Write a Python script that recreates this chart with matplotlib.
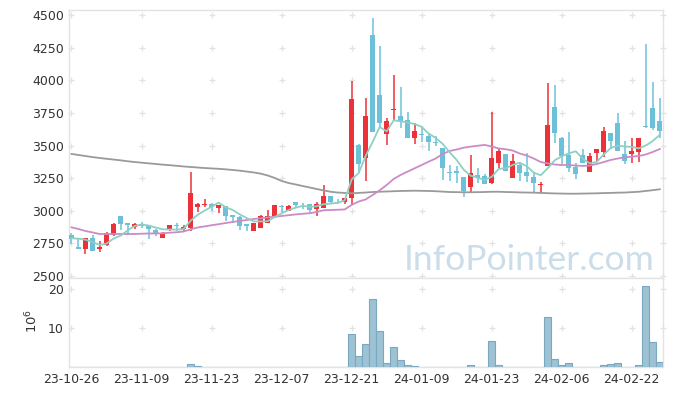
import numpy as np
import pandas as pd
import matplotlib
matplotlib.use("Agg")
import matplotlib.pyplot as plt

# ---- data (KRW price, volume in millions) ----
holidays = ['2023-12-25', '2023-12-29', '2024-01-01', '2024-02-09', '2024-02-12']
days = pd.bdate_range('2023-10-26', '2024-02-28')
days = days[~days.isin(pd.to_datetime(holidays))]
date_labels = [d.strftime('%y-%m-%d') for d in days]

opens = [2814, 2725, 2705, 2789, 2709, 2734, 2811, 2960, 2909, 2876,
         2895, 2891, 2853, 2794, 2857, 2891, 2860, 2868, 3031, 3042,
         3054, 3019, 3037, 2968, 2950, 2895, 2847, 2870, 2909, 2952,
         3037, 3001, 3064, 3039, 3050, 3014, 3024, 3117, 3070, 3068,
         3100, 3505, 3403, 4348, 3888, 3587, 3773, 3727, 3696, 3556,
         3589, 3574, 3525, 3479, 3295, 3305, 3259, 3185, 3275, 3263,
         3211, 3369, 3436, 3254, 3351, 3300, 3262, 3196, 3346, 3794,
         3556, 3428, 3338, 3428, 3300, 3446, 3453, 3594, 3671, 3433,
         3438, 3453, 3650, 3786, 3689]
closes = [2781, 2705, 2789, 2694, 2725, 2827, 2899, 2899, 2893, 2899,
          2885, 2860, 2820, 2827, 2889, 2883, 2878, 3139, 3054, 3052,
          3029, 3041, 2962, 2949, 2885, 2887, 2909, 2960, 2960, 3044,
          3029, 3037, 3047, 3033, 3004, 3051, 3117, 3070, 3062, 3098,
          3857, 3357, 3727, 3602, 3671, 3689, 3781, 3689, 3556, 3612,
          3581, 3524, 3518, 3331, 3288, 3288, 3150, 3288, 3252, 3208,
          3403, 3459, 3308, 3382, 3292, 3267, 3216, 3203, 3658, 3594,
          3420, 3326, 3285, 3369, 3420, 3474, 3612, 3535, 3461, 3382,
          3459, 3558, 3643, 3637, 3614]
highs = [2830, 2791, 2794, 2814, 2768, 2835, 2904, 2960, 2910, 2909,
         2916, 2893, 2858, 2834, 2889, 2904, 2891, 3295, 3057, 3088,
         3056, 3045, 3039, 2968, 2960, 2899, 2910, 2968, 3006, 3044,
         3044, 3041, 3070, 3058, 3052, 3068, 3194, 3117, 3091, 3100,
         3995, 3510, 3863, 4476, 4262, 3709, 4038, 3947, 3760, 3673,
         3650, 3597, 3570, 3479, 3351, 3344, 3259, 3428, 3331, 3282,
         3754, 3479, 3436, 3433, 3364, 3441, 3298, 3223, 3978, 3962,
         3566, 3601, 3364, 3472, 3441, 3474, 3639, 3594, 3752, 3535,
         3556, 3558, 4279, 3985, 3863]
lows = [2742, 2705, 2666, 2692, 2680, 2732, 2807, 2855, 2814, 2864,
        2870, 2781, 2803, 2791, 2847, 2847, 2847, 2845, 2991, 3027,
        2998, 2985, 2922, 2909, 2853, 2847, 2845, 2866, 2909, 2945,
        2991, 2998, 3031, 3014, 2973, 2960, 3024, 3056, 3050, 3050,
        3050, 3290, 3225, 3602, 3640, 3505, 3689, 3637, 3556, 3510,
        3531, 3459, 3497, 3236, 3229, 3211, 3108, 3146, 3213, 3206,
        3202, 3326, 3308, 3254, 3229, 3221, 3146, 3140, 3346, 3518,
        3357, 3294, 3242, 3367, 3300, 3373, 3415, 3474, 3461, 3357,
        3369, 3377, 3633, 3620, 3558]
volumes = [0.02, 0.02, 0.02, 0.02, 0.02, 0.02, 0.02, 0.02, 0.02, 0.02,
           0.02, 0.02, 0.02, 0.02, 0.02, 0.02, 0.02, 0.8, 0.4, 0.02,
           0.02, 0.02, 0.02, 0.02, 0.02, 0.02, 0.02, 0.02, 0.02, 0.02,
           0.02, 0.02, 0.02, 0.02, 0.02, 0.02, 0.02, 0.02, 0.02, 0.02,
           8.5, 2.9, 5.9, 17.4, 9.2, 1.1, 5.2, 1.9, 0.6, 0.3,
           0.2, 0.2, 0.2, 0.2, 0.2, 0.02, 0.2, 0.6, 0.02, 0.02,
           6.8, 0.6, 0.2, 0.2, 0.2, 0.2, 0.2, 0.05, 12.8, 2.1,
           0.6, 1.1, 0.2, 0.2, 0.2, 0.2, 0.6, 0.8, 1.1, 0.2,
           0.2, 0.6, 20.8, 6.4, 1.4]
ma5_head = [2789, 2786, 2778, 2760]
ma20 = [2873, 2860, 2845, 2834, 2822, 2822, 2822, 2822, 2822, 2822,
        2824, 2826, 2826, 2827, 2832, 2835, 2841, 2857, 2872, 2880,
        2889, 2897, 2906, 2914, 2922, 2929, 2937, 2942, 2949, 2954,
        2960, 2966, 2972, 2977, 2981, 2991, 3004, 3006, 3008, 3010,
        3045, 3071, 3087, 3121, 3157, 3198, 3244, 3275, 3301, 3326,
        3351, 3377, 3401, 3436, 3459, 3470, 3484, 3492, 3499, 3505,
        3493, 3478, 3472, 3462, 3439, 3424, 3401, 3374, 3363, 3355,
        3351, 3351, 3347, 3344, 3347, 3359, 3374, 3390, 3401, 3410,
        3415, 3420, 3432, 3451, 3474]
ma120 = [3436, 3428, 3420, 3412, 3405, 3399, 3393, 3387, 3380, 3374,
         3369, 3364, 3359, 3354, 3350, 3345, 3340, 3336, 3332, 3328,
         3325, 3322, 3318, 3313, 3308, 3301, 3294, 3285, 3271, 3252,
         3229, 3213, 3202, 3190, 3179, 3167, 3156, 3146, 3140, 3137,
         3134, 3137, 3140, 3144, 3146, 3148, 3150, 3152, 3153, 3154,
         3153, 3152, 3150, 3147, 3144, 3143, 3142, 3142, 3143, 3144,
         3146, 3146, 3144, 3143, 3141, 3140, 3139, 3137, 3135, 3133,
         3132, 3131, 3131, 3132, 3133, 3134, 3136, 3137, 3139, 3140,
         3143, 3146, 3152, 3158, 3165]
price_ticks = [2500, 2750, 3000, 3250, 3500, 3750, 4000, 4250, 4500]
vol_ticks = [10, 20]

# ---- styling ----
UP = '#ec3238'
DOWN = '#6cc1d8'
GRID = '#e2e2e2'
SPINE = '#e3e3e3'
TXT = '#333333'

n = len(closes)
x = np.arange(n)
o = np.array(opens, float)
c = np.array(closes, float)
h = np.array(highs, float)
l = np.array(lows, float)
colors = np.where(c >= o, UP, DOWN)

ma5 = pd.Series(c).rolling(5).mean().to_numpy()
ma5[:4] = ma5_head

fig = plt.figure(figsize=(6.73, 3.96), dpi=100)
ax = fig.add_axes([0.103, 0.2972, 0.8826, 0.6775])
axv = fig.add_axes([0.103, 0.072, 0.8826, 0.2253], sharex=ax)

xmin, xmax = -0.31, 84.5

# candles
ax.vlines(x, l, h, colors=colors, linewidth=1.1, zorder=3)
body_bottom = np.minimum(o, c)
body_h = np.maximum(np.abs(c - o), 7)
ax.bar(x, body_h, bottom=body_bottom, width=0.72, color=colors, linewidth=0, zorder=3)

# moving averages
ax.plot(x, ma120, color='#9a9a9a', lw=1.3, zorder=4)
ax.plot(x, ma20, color='#cd8bc6', lw=1.3, zorder=4)
ax.plot(x, ma5, color='#8fd0c3', lw=1.3, zorder=4)

# volume bars
axv.bar(x, volumes, width=1.0, color='#9cc2d3', edgecolor='#79a8c0', linewidth=0.8, zorder=3)

# grid crosses
xcross = list(range(0, 81, 10)) + [xmax]
for a, yts in ((ax, price_ticks), (axv, vol_ticks)):
    for xt in xcross:
        a.plot([xt] * len(yts), yts, linestyle='none', marker='+', ms=4.5, mew=0.9,
               color=GRID, zorder=1, clip_on=False)

ax.set_xlim(xmin, xmax)
ax.set_ylim(2482, 4540)
axv.set_ylim(0, 22.7)

ax.set_yticks(price_ticks)
ax.set_yticklabels([str(t) for t in price_ticks])
axv.set_yticks(vol_ticks)
axv.set_yticklabels([str(t) for t in vol_ticks])
axv.set_xticks(range(0, 81, 10))
axv.set_xticklabels([date_labels[i] for i in range(0, 81, 10)])
ax.tick_params(axis='x', labelbottom=False)

for a in (ax, axv):
    a.tick_params(length=0, pad=4, labelsize=9, colors=TXT)
    for s in a.spines.values():
        s.set_color(SPINE)
        s.set_linewidth(1.0)
    a.set_facecolor('white')

fig.text(32 / 673, 1 - 321 / 396, r'$10^6$', rotation=90, ha='center', va='center',
         fontsize=9.5, color=TXT)

ax.text(0.986, 0.031, 'InfoPointer.com', transform=ax.transAxes, ha='right', va='baseline',
        fontsize=25.5, family='Lato', color='#cadde9', zorder=2)

fig.savefig('out.png', dpi=100)
